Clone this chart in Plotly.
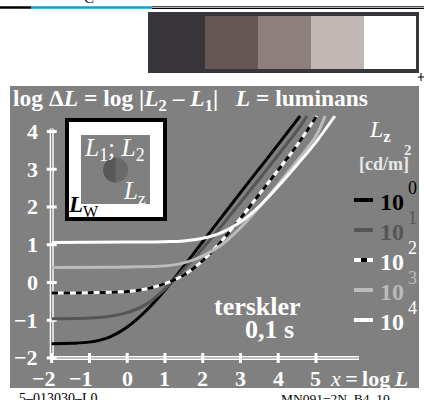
import numpy as np
import plotly.graph_objects as go

# ---------------- data ----------------
series_names = ["10^0", "10^1", "10^2", "10^3", "10^4"]
exponents = ["0", "1", "2", "3", "4"]

black_x = [-2, -1.5, -1, -0.5, 0, 0.5, 1, 1.5, 2, 2.5, 3, 3.5, 4, 4.58]
black_y = [-1.62, -1.61, -1.58, -1.46, -1.18, -0.75, -0.2, 0.43, 1.08, 1.73, 2.38, 3.02, 3.66, 4.41]

dgray_x = [-2, -1, -0.5, 0, 0.5, 1, 1.5, 2, 2.5, 3, 3.5, 4, 4.5, 4.76]
dgray_y = [-0.96, -0.94, -0.9, -0.8, -0.58, -0.17, 0.35, 0.9, 1.5, 2.12, 2.74, 3.38, 4.02, 4.41]

dash_x = [-2, -1, 0, 0.5, 1, 1.5, 2, 2.5, 3, 3.5, 4, 4.5, 5.02]
dash_y = [-0.28, -0.27, -0.24, -0.17, -0.03, 0.2, 0.58, 1.1, 1.7, 2.34, 2.98, 3.64, 4.41]

lgray_x = [-2, 0, 1, 1.5, 2, 2.5, 3, 3.5, 4, 4.5, 5, 5.24]
lgray_y = [0.4, 0.41, 0.44, 0.52, 0.7, 1.0, 1.45, 2.0, 2.6, 3.22, 3.88, 4.41]

white_x = [-2, 0, 1, 1.5, 2, 2.5, 3, 3.5, 4, 4.5, 5, 5.5]
white_y = [1.06, 1.07, 1.08, 1.1, 1.17, 1.32, 1.6, 2.02, 2.55, 3.12, 3.72, 4.41]

x_ticks = [-2, -1, 0, 1, 2, 3, 4, 5]
x_tick_labels = ["\u22122", "\u22121", "0", "1", "2", "3", "4", "5"]
y_ticks = [-2, -1, 0, 1, 2, 3, 4]
y_tick_labels = ["\u22122", "\u22121", "0", "1", "2", "3", "4"]

# ---------------- layout helpers ----------------
W, H = 424, 400
ML, MR, MT, MB = 10, 5, 86, 12
PW, PH = W - ML - MR, H - MT - MB
SC = 37.75
XR = [-3.105, -3.105 + PW / SC]
YR = [5.205 - PH / SC, 5.205]


def xp(px):
    return (px - ML) / PW


def yp(py):
    return (H - MB - py) / PH


FONT = "Liberation Serif, Times New Roman, serif"
GRAY = "#808080"
DGRAY = "#555555"
LGRAY = "#bbbbbb"

fig = go.Figure()

# curves
fig.add_trace(go.Scatter(x=black_x, y=black_y, mode="lines", line=dict(color="black", width=3, shape="spline"), name=series_names[0]))
fig.add_trace(go.Scatter(x=dgray_x, y=dgray_y, mode="lines", line=dict(color=DGRAY, width=3, shape="spline"), name=series_names[1]))
fig.add_trace(go.Scatter(x=dash_x, y=dash_y, mode="lines", line=dict(color="white", width=3, shape="spline"), name=series_names[2]))
fig.add_trace(go.Scatter(x=dash_x, y=dash_y, mode="lines", line=dict(color="black", width=3, shape="spline", dash="6px,6px"), showlegend=False))
fig.add_trace(go.Scatter(x=lgray_x, y=lgray_y, mode="lines", line=dict(color=LGRAY, width=3, shape="spline"), name=series_names[3]))
fig.add_trace(go.Scatter(x=white_x, y=white_y, mode="lines", line=dict(color="white", width=3, shape="spline"), name=series_names[4]))

shapes = []
ann = []

# axes (double white lines)
x_end, y_end = 6.14, 4.08
for w, c in [(4, "white"), (1.2, GRAY)]:
    shapes.append(dict(type="line", xref="x", yref="y", x0=-2, x1=x_end, y0=-2, y1=-2, line=dict(color=c, width=w), layer="below"))
    shapes.append(dict(type="line", xref="x", yref="y", x0=-2, x1=-2, y0=-2, y1=y_end, line=dict(color=c, width=w), layer="below"))
tl = 5 / SC
for v in x_ticks:
    shapes.append(dict(type="line", xref="x", yref="y", x0=v, x1=v, y0=-2 - tl, y1=-2 + tl, line=dict(color="white", width=3), layer="below"))
for v in y_ticks:
    shapes.append(dict(type="line", xref="x", yref="y", x0=-2 - tl, x1=-2 + tl, y0=v, y1=v, line=dict(color="white", width=3), layer="below"))

# tick labels
for v, t in zip(x_ticks, x_tick_labels):
    if t.startswith("\u2212"):
        ann.append(dict(x=v, xref="x", y=yp(378), yref="paper", text="<b>%s</b>" % t, showarrow=False,
                        xanchor="right", yanchor="middle", xshift=6, font=dict(family=FONT, size=22, color="white")))
    else:
        ann.append(dict(x=v, xref="x", y=yp(378), yref="paper", text="<b>%s</b>" % t, showarrow=False,
                        xanchor="center", yanchor="middle", font=dict(family=FONT, size=22, color="white")))
for v, t in zip(y_ticks, y_tick_labels):
    ann.append(dict(x=xp(40), xref="paper", y=v, yref="y", text="<b>%s</b>" % t, showarrow=False,
                    xanchor="right", yanchor="middle", font=dict(family=FONT, size=22, color="white")))

ann.append(dict(x=xp(410), xref="paper", y=yp(378), yref="paper",
                text="<i>x</i><b>\u2009=\u2009log\u2009</b><i><b>L</b></i>", showarrow=False,
                xanchor="right", yanchor="middle", font=dict(family=FONT, size=22, color="white")))

# title
ann.append(dict(x=xp(11), xref="paper", y=yp(100), yref="paper",
                text="<b>log \u0394<i>L</i> = log |<i>L</i><sub>2</sub> \u2013 <i>L</i><sub>1</sub>|\u00a0\u00a0\u00a0<i>L</i> = luminans</b>",
                showarrow=False, xanchor="left", yanchor="middle", font=dict(family=FONT, size=23.5, color="white")))

# inset
shapes.append(dict(type="rect", xref="paper", yref="paper", x0=xp(67), x1=xp(165), y0=yp(120), y1=yp(219),
                   fillcolor="white", line=dict(color="black", width=4)))
shapes.append(dict(type="rect", xref="paper", yref="paper", x0=xp(81), x1=xp(150), y0=yp(135), y1=yp(204),
                   fillcolor=GRAY, line=dict(width=0)))
cx, cy, r = 115.7, 170, 12.5
shapes.append(dict(type="circle", xref="paper", yref="paper", x0=xp(cx - r), x1=xp(cx + r), y0=yp(cy + r), y1=yp(cy - r),
                   fillcolor="#6a6a6a", line=dict(width=0)))
th = np.linspace(np.pi / 2, 3 * np.pi / 2, 30)
pts = ["%s%.5f,%.5f" % ("M" if i == 0 else "L", xp(cx + r * np.cos(t)), yp(cy - r * np.sin(t))) for i, t in enumerate(th)]
shapes.append(dict(type="path", xref="paper", yref="paper", path=" ".join(pts) + " Z", fillcolor="#585858", line=dict(width=0)))
ann.append(dict(x=xp(114), xref="paper", y=yp(149), yref="paper", text="<i>L</i><sub>1</sub>; <i>L</i><sub>2</sub>",
                showarrow=False, xanchor="center", yanchor="middle", font=dict(family=FONT, size=25.5, color="white")))
ann.append(dict(x=xp(134), xref="paper", y=yp(192), yref="paper", text="<i>L</i><sub>z</sub>",
                showarrow=False, xanchor="center", yanchor="middle", font=dict(family=FONT, size=25, color="white")))
ann.append(dict(x=xp(66), xref="paper", y=yp(206), yref="paper", text="<b><i>L</i></b><sub>W</sub>",
                showarrow=False, xanchor="left", yanchor="middle", font=dict(family=FONT, size=23, color="black")))

# legend (right)
ann.append(dict(x=xp(380), xref="paper", y=yp(131), yref="paper", text="<i>L</i><b><sub>z</sub></b>",
                showarrow=False, xanchor="center", yanchor="middle", font=dict(family=FONT, size=24, color="white")))
ann.append(dict(x=xp(408), xref="paper", y=yp(150), yref="paper", text="<b>2</b>",
                showarrow=False, xanchor="center", yanchor="middle", font=dict(family=FONT, size=15, color="#e8e8e8")))
ann.append(dict(x=xp(384), xref="paper", y=yp(164), yref="paper", text="<b>[cd/m]</b>",
                showarrow=False, xanchor="center", yanchor="middle", font=dict(family=FONT, size=18, color="#e8e8e8")))
leg_y = [200, 230, 260, 290, 320]
leg_line = ["black", DGRAY, "white", LGRAY, "white"]
leg_txt = ["black", DGRAY, "white", LGRAY, "white"]
for i in range(5):
    y = leg_y[i]
    shapes.append(dict(type="line", xref="paper", yref="paper", x0=xp(354), x1=xp(373), y0=yp(y), y1=yp(y),
                       line=dict(color=leg_line[i], width=4)))
    if i == 2:
        shapes.append(dict(type="line", xref="paper", yref="paper", x0=xp(361), x1=xp(367), y0=yp(y), y1=yp(y),
                           line=dict(color="black", width=4)))
    ann.append(dict(x=xp(378), xref="paper", y=yp(y + 2), yref="paper", text="<b>10</b>",
                    showarrow=False, xanchor="left", yanchor="middle", font=dict(family=FONT, size=24, color=leg_txt[i])))
    ann.append(dict(x=xp(406), xref="paper", y=yp(y - 12), yref="paper", text=exponents[i],
                    showarrow=False, xanchor="left", yanchor="middle", font=dict(family=FONT, size=18, color=leg_txt[i])))

# terskler
ann.append(dict(x=xp(257), xref="paper", y=yp(306), yref="paper", text="<b>terskler</b>",
                showarrow=False, xanchor="center", yanchor="middle", font=dict(family=FONT, size=26, color="white")))
ann.append(dict(x=xp(269), xref="paper", y=yp(329), yref="paper", text="<b>0,1 s</b>",
                showarrow=False, xanchor="center", yanchor="middle", font=dict(family=FONT, size=26, color="white")))

# top decorations (color strip)
shapes.append(dict(type="rect", xref="paper", yref="paper", x0=xp(148), x1=xp(419), y0=yp(73), y1=yp(12),
                   fillcolor="#38363b", line=dict(width=0)))
strip_cols = ["#665955", "#8d807c", "#c1b8b5", "#ffffff"]
strip_x = [205, 258, 311, 364, 416]
for i, c in enumerate(strip_cols):
    shapes.append(dict(type="rect", xref="paper", yref="paper", x0=xp(strip_x[i]), x1=xp(strip_x[i + 1]), y0=yp(69), y1=yp(16),
                       fillcolor=c, line=dict(width=0)))
shapes.append(dict(type="line", xref="paper", yref="paper", x0=xp(0), x1=xp(31), y0=yp(7.5), y1=yp(7.5), line=dict(color="black", width=2.5)))
shapes.append(dict(type="line", xref="paper", yref="paper", x0=xp(31), x1=xp(152), y0=yp(7.5), y1=yp(7.5), line=dict(color="#0a9fd6", width=2.5)))
for yy in [6.8, 8.5]:
    shapes.append(dict(type="line", xref="paper", yref="paper", x0=xp(152), x1=xp(424), y0=yp(yy), y1=yp(yy), line=dict(color="black", width=1)))
shapes.append(dict(type="line", xref="paper", yref="paper", x0=xp(421), x1=xp(421), y0=yp(73), y1=yp(81), line=dict(color="black", width=1)))
shapes.append(dict(type="line", xref="paper", yref="paper", x0=xp(418), x1=xp(424), y0=yp(77), y1=yp(77), line=dict(color="black", width=1)))
ann.append(dict(x=xp(89), xref="paper", y=yp(-2), yref="paper", text="C",
                showarrow=False, xanchor="center", yanchor="middle", font=dict(family=FONT, size=15, color="black")))

# bottom texts
ann.append(dict(x=xp(17), xref="paper", y=yp(398), yref="paper", text="5\u2013013030\u2013L0",
                showarrow=False, xanchor="left", yanchor="middle", font=dict(family=FONT, size=14, color="black")))
ann.append(dict(x=xp(392), xref="paper", y=yp(398), yref="paper", text="MN091\u22122N_B4_10",
                showarrow=False, xanchor="right", yanchor="middle", font=dict(family=FONT, size=13.5, color="black")))

fig.update_layout(
    width=W, height=H,
    margin=dict(l=ML, r=MR, t=MT, b=MB, pad=0),
    paper_bgcolor="white", plot_bgcolor=GRAY,
    showlegend=False,
    xaxis=dict(range=XR, showgrid=False, zeroline=False, showticklabels=False, ticks="", showline=False, fixedrange=True),
    yaxis=dict(range=YR, showgrid=False, zeroline=False, showticklabels=False, ticks="", showline=False, fixedrange=True),
    shapes=shapes, annotations=ann,
)

fig.write_html("out.html", config={"displayModeBar": False},
               post_script="document.body.style.margin='0';document.body.style.overflow='hidden';")
